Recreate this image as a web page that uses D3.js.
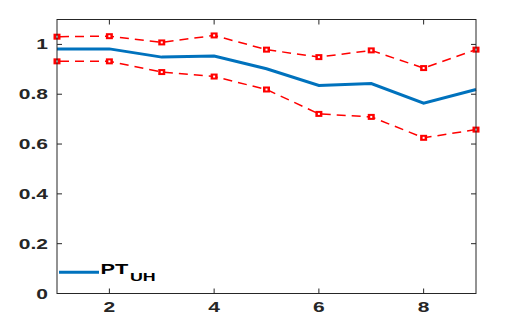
<!DOCTYPE html>
<html><head><meta charset="utf-8">
<script src="https://cdn.jsdelivr.net/npm/d3@7"></script>
<style>html,body{margin:0;padding:0;background:#fff;}svg{display:block;}</style>
</head><body>
<script>
const xs = [1,2,3,4,5,6,7,8,9];
const mean = [0.982,0.982,0.949,0.953,0.902,0.835,0.843,0.764,0.819];
const upper = [1.031,1.033,1.008,1.036,0.979,0.949,0.976,0.905,0.979];
const lower = [0.932,0.932,0.889,0.871,0.819,0.721,0.709,0.625,0.658];
const xTicks = [2,4,6,8];
const yTicks = [0,0.2,0.4,0.6,0.8,1];
const yTickLabels = ["0","0.2","0.4","0.6","0.8","1"];

const W=506,H=331;
const L=57,R=476,T=19.5,B=293.5;
const svg=d3.select("body").append("svg").attr("width",W).attr("height",H);
const x=d3.scaleLinear().domain([1,9]).range([L,R]);
const y=d3.scaleLinear().domain([0,1.1]).range([B,T]);
const font="'Liberation Sans', Arial, Helvetica, sans-serif";
const axCol="#262626";
const SX=1.5;

// lines
const line=d3.line().x((d,i)=>x(xs[i])).y(d=>y(d));
[upper,lower].forEach(s=>{
  svg.append("path").attr("d",line(s)).attr("fill","none").attr("stroke","#ff0000")
    .attr("stroke-width",1.5).attr("stroke-dasharray","9,6").attr("stroke-dashoffset",-3);
});
svg.append("path").attr("d",line(mean)).attr("fill","none").attr("stroke","#0072BD")
  .attr("stroke-width",3);
[upper,lower].forEach(s=>{
  const g=svg.append("g");
  g.selectAll("rect.m").data(s).join("rect").attr("class","m")
    .attr("x",(d,i)=>x(xs[i])-3.5).attr("y",d=>y(d)-3).attr("width",7).attr("height",6)
    .attr("fill","#ff0000");
  g.selectAll("rect.c").data(s).join("rect").attr("class","c")
    .attr("x",(d,i)=>x(xs[i])-1).attr("y",d=>y(d)-1).attr("width",2).attr("height",2)
    .attr("fill","#ffffff");
});

// box
svg.append("rect").attr("x",L).attr("y",T).attr("width",R-L).attr("height",B-T)
  .attr("fill","none").attr("stroke",axCol).attr("stroke-width",1);

// ticks
const tl=5;
xTicks.forEach(t=>{
  svg.append("line").attr("x1",x(t)).attr("x2",x(t)).attr("y1",B).attr("y2",B-tl).attr("stroke",axCol);
  svg.append("line").attr("x1",x(t)).attr("x2",x(t)).attr("y1",T).attr("y2",T+tl).attr("stroke",axCol);
  svg.append("text").attr("transform",`translate(${x(t)},${B+18.5}) scale(${SX},1)`).attr("text-anchor","middle")
    .attr("font-family",font).attr("font-weight","bold").attr("font-size",14).attr("fill",axCol).text(t);
});
yTicks.forEach((t,i)=>{
  svg.append("line").attr("x1",L).attr("x2",L+tl).attr("y1",y(t)).attr("y2",y(t)).attr("stroke",axCol);
  svg.append("line").attr("x1",R).attr("x2",R-tl).attr("y1",y(t)).attr("y2",y(t)).attr("stroke",axCol);
  svg.append("text").attr("transform",`translate(${L-9},${y(t)+5}) scale(${SX},1)`).attr("text-anchor","end")
    .attr("font-family",font).attr("font-weight","bold").attr("font-size",14).attr("fill",axCol).text(yTickLabels[i]);
});

// legend
svg.append("line").attr("x1",59).attr("x2",99).attr("y1",272.3).attr("y2",272.3)
  .attr("stroke","#0072BD").attr("stroke-width",3);
svg.append("text").attr("transform",`translate(100.5,274) scale(1.45,1)`).attr("font-family",font)
  .attr("font-weight","bold").attr("font-size",15).attr("fill","#000").text("PT");
svg.append("text").attr("transform",`translate(130,281) scale(1.7,1)`).attr("font-family",font)
  .attr("font-weight","bold").attr("font-size",10.5).attr("fill","#000").text("UH");
</script>
</body></html>
